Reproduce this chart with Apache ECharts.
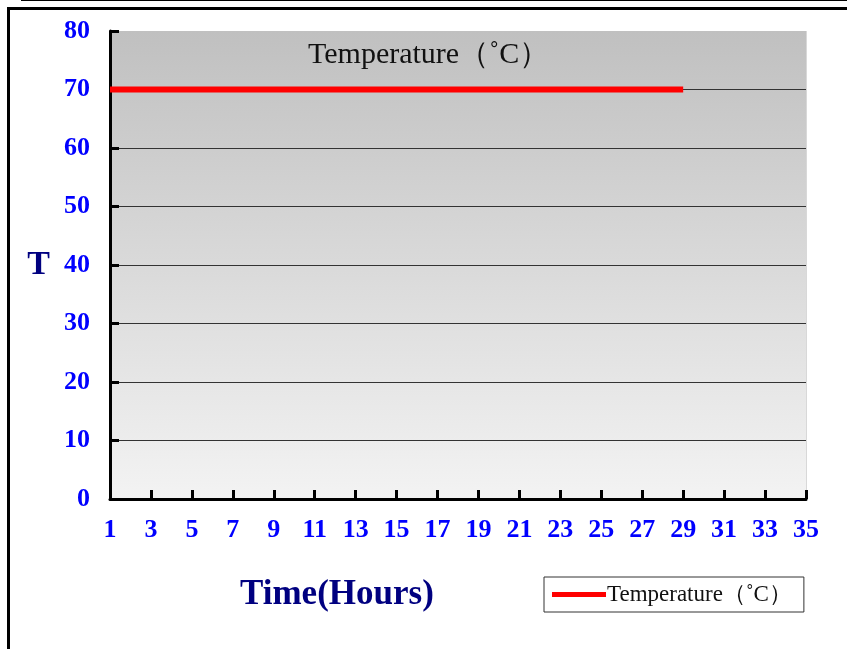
<!DOCTYPE html>
<html>
<head>
<meta charset="utf-8">
<script src="https://cdn.jsdelivr.net/npm/echarts@6/dist/echarts.min.js"></script>
<style>
  html, body { margin: 0; padding: 0; background: #fff; }
  #main { width: 847px; height: 649px; }
</style>
</head>
<body>
<div id="main"></div>
<script>
// hours 1..35 on the x axis
var hours = [1, 2, 3, 4, 5, 6, 7, 8, 9, 10, 11, 12, 13, 14, 15, 16, 17, 18,
             19, 20, 21, 22, 23, 24, 25, 26, 27, 28, 29, 30, 31, 32, 33, 34, 35];
// temperature readings (hours 1..29)
var temperature = [70, 70, 70, 70, 70, 70, 70, 70, 70, 70, 70, 70, 70, 70, 70,
                   70, 70, 70, 70, 70, 70, 70, 70, 70, 70, 70, 70, 70, 70];
var seriesName = 'Temperature（˚C）';

var myChart = echarts.init(document.getElementById('main'));
var serif = '"Liberation Serif", "Times New Roman", "DejaVu Serif", serif';

var option = {
    animation: false,
    backgroundColor: '#fff',
    title: [{
        text: seriesName,
        left: 303,
        top: 35,
        textStyle: { fontFamily: serif, fontSize: 30, fontWeight: 'normal', color: '#111' }
    }, {
        text: 'Time(Hours)',
        left: 235,
        top: 572,
        textStyle: { fontFamily: serif, fontSize: 35, fontWeight: 'bold', color: '#000080' }
    }],
    legend: {
        left: 544,
        top: 577,
        width: 260,
        padding: [6, 12, 6, 8],
        backgroundColor: '#fff',
        borderColor: '#333',
        borderWidth: 1,
        borderRadius: 0,
        icon: 'rect',
        itemWidth: 54,
        itemHeight: 5,
        itemGap: 2,
        textStyle: { fontFamily: serif, fontSize: 23, color: '#111', padding: [0, 0, 0, -4] },
        data: [seriesName]
    },
    grid: {
        left: 110,
        top: 31,
        right: 41,
        bottom: 150,
        show: true,
        borderWidth: 0,
        backgroundColor: new echarts.graphic.LinearGradient(0, 0, 0, 1, [
            { offset: 0, color: '#c0c0c0' },
            { offset: 1, color: '#f3f3f3' }
        ])
    },
    xAxis: {
        type: 'category',
        data: hours,
        boundaryGap: false,
        axisLine: { lineStyle: { color: '#000', width: 3 } },
        axisTick: { inside: true, length: 9, interval: 1, lineStyle: { color: '#000', width: 3 } },
        axisLabel: {
            interval: 1,
            margin: 18,
            fontFamily: serif, fontSize: 26, fontWeight: 'bold', color: '#0000ff'
        },
        splitLine: { show: false }
    },
    yAxis: {
        type: 'value',
        min: 0,
        max: 80,
        interval: 10,
        name: 'T',
        nameLocation: 'middle',
        nameRotate: 0,
        nameGap: 60,
        nameTextStyle: { fontFamily: serif, fontSize: 34, fontWeight: 'bold', color: '#000080', padding: [8, 0, 0, 0] },
        axisLine: { show: true, lineStyle: { color: '#000', width: 3 } },
        axisTick: { show: true, inside: true, length: 9, lineStyle: { color: '#000', width: 3 } },
        axisLabel: {
            margin: 20,
            fontFamily: serif, fontSize: 26, fontWeight: 'bold', color: '#0000ff'
        },
        splitLine: {
            show: true,
            showMinLine: false,
            showMaxLine: false,
            lineStyle: { color: '#333', width: 1 }
        }
    },
    series: [{
        name: seriesName,
        type: 'line',
        data: temperature,
        showSymbol: false,
        symbol: 'none',
        itemStyle: { color: '#ff0000' },
        lineStyle: { color: '#ff0000', width: 6 }
    }],
    graphic: [
        { type: 'line', shape: { x1: 21, y1: 0.5, x2: 847, y2: 0.5 }, style: { stroke: '#000', lineWidth: 1 } },
        { type: 'line', shape: { x1: 7, y1: 8.5, x2: 847, y2: 8.5 }, style: { stroke: '#000', lineWidth: 3 } },
        { type: 'line', shape: { x1: 8.5, y1: 7, x2: 8.5, y2: 649 }, style: { stroke: '#000', lineWidth: 3 } },
        { type: 'line', shape: { x1: 806.5, y1: 31, x2: 806.5, y2: 498 }, style: { stroke: '#d8d8d8', lineWidth: 1 } }
    ]
};
myChart.setOption(option);
</script>
</body>
</html>
